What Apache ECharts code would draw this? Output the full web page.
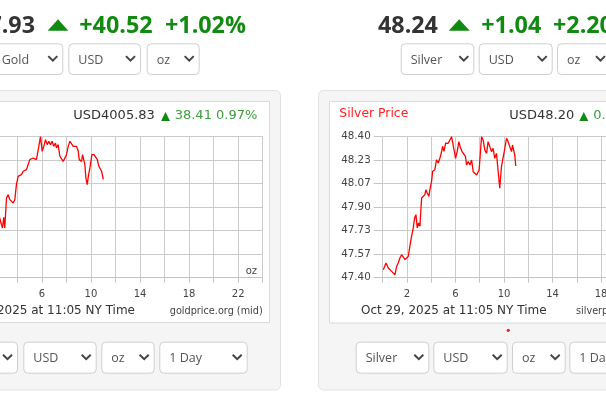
<!DOCTYPE html>
<html><head><meta charset="utf-8">
<script src="https://cdn.jsdelivr.net/npm/echarts@6/dist/echarts.min.js"></script>
<style>html,body{margin:0;padding:0;background:#fff;overflow:hidden}#c{width:606px;height:409px}</style>
</head><body><div id="c"></div>
<script>
// ---- data ----
const goldHours = [0,0.25,0.5,0.75,1,1.25,1.5,1.75,2,2.25,2.45,
 2.57,2.71,2.79,2.90,2.98,3.12,3.25,3.39,3.52,3.66,3.80,3.93,4.07,4.20,4.34,4.48,4.61,4.75,4.88,5.02,5.29,5.56,5.70,5.78,5.89,
 6.03,6.16,6.30,6.44,6.57,6.71,6.84,6.98,7.11,7.20,7.33,7.47,7.60,7.74,7.88,8.01,8.15,8.29,8.42,8.56,8.69,8.83,8.97,9.05,9.16,
 9.24,9.32,9.43,9.51,9.59,9.70,9.81,9.92,10.0,10.08,10.25,10.41,10.52,10.65,10.73,10.87,11.01];
const goldPrices = [3967.4,3970.2,3968.5,3972.0,3975.1,3973.0,3977.2,3980.0,3978.1,3982.3,3980.4,
 3983.9,3980.1,3978.2,3984.3,3978.2,3995.2,3997.1,3994.3,3995.2,3992.4,3994.3,4002.8,4007.5,4006.6,4008.5,4010.4,4009.5,4011.3,4014.1,4017.0,4017.9,4017.0,4017.9,4025.5,4030.0,
 4021.7,4024.5,4028.3,4025.5,4027.4,4025.5,4027.4,4024.5,4026.4,4023.6,4025.5,4018.9,4017.9,4016.0,4017.0,4019.8,4024.5,4027.4,4026.4,4024.5,4023.6,4024.5,4021.7,4017.0,4017.9,
 4016.0,4019.8,4020.8,4014.1,4006.6,4002.8,4008.5,4012.3,4016.0,4019.8,4019.8,4018.9,4017.0,4013.2,4012.3,4010.4,4005.8];
const silverHours = [0.05,0.27,0.46,0.60,0.74,0.87,1.01,1.15,1.28,1.42,1.56,1.70,1.84,1.98,2.11,2.25,2.33,2.44,2.52,2.63,2.74,2.85,2.96,3.07,3.13,3.21,3.34,3.48,3.56,3.67,3.81,3.89,
 4.03,4.12,4.30,4.44,4.58,4.72,4.86,4.94,5.05,5.19,5.27,5.40,5.54,5.68,5.81,6.01,6.14,6.28,6.42,6.55,6.69,6.83,6.91,7.05,7.19,7.33,7.46,7.60,7.74,7.87,7.95,
 8.07,8.15,8.28,8.42,8.56,8.69,8.83,8.97,9.10,9.24,9.38,9.51,9.65,9.79,9.93,10.07,10.21,10.34,10.48,10.62,10.70,10.81,10.89,10.97];
const silverPrices = [47.457,47.504,47.469,47.481,47.445,47.457,47.421,47.481,47.504,47.540,47.563,47.552,47.528,47.516,47.552,47.563,47.670,47.682,47.753,47.823,47.847,47.753,47.788,47.765,47.859,47.965,47.977,47.989,48.024,48.001,47.977,48.024,
 48.084,48.155,48.166,48.237,48.213,48.249,48.296,48.332,48.296,48.355,48.365,48.353,48.377,48.400,48.389,48.247,48.294,48.365,48.318,48.294,48.306,48.258,48.199,48.223,48.199,48.235,48.152,48.164,48.128,48.121,48.164,
 48.306,48.400,48.377,48.306,48.282,48.365,48.353,48.294,48.318,48.247,48.282,48.164,48.034,48.187,48.199,48.318,48.389,48.365,48.329,48.294,48.341,48.341,48.270,48.192];
const xTickLabels = [2,6,10,14,18,22];
const goldYRange = [3950, 4030];
const silverYRange = [47.40, 48.40];
const goldHeader = {price:'4007.93', change:'+40.52', pct:'+1.02%'};
const silverHeader = {price:'48.24', change:'+1.04', pct:'+2.20%'};
const goldChart = {last:'USD4005.83', change:'38.41 0.97%'};
const silverChart = {last:'USD48.20', change:'0.75 1.58%'};
const dateText = 'Oct 29, 2025 at 11:05 NY Time';

// ---- helpers ----
function yTicks(r){const a=[];for(let i=0;i<=6;i++)a.push(r[0]+(r[1]-r[0])*i/6);return a;}
const GRID='#cbcbcb', DARK='#333', GREEN='#118a11', LGREEN='#3a9e3a';
const chartFont='DejaVu Sans', uiFont='Open Sans';
const g=[];
function rect(x,y,w,h,fill,stroke,r,z){g.push({type:'rect',shape:{x,y,width:w,height:h,r:r||0},style:{fill,stroke:stroke||null,lineWidth:1},z:z===undefined?-10:z,silent:true});}
function text(x,y,t,opt){g.push({type:'text',x,y,z:10,silent:true,style:Object.assign({text:t,fill:DARK,font:'12px '+chartFont,align:'left',verticalAlign:'middle'},opt)});}
function tri(x1,x2,y1,y2,color){g.push({type:'polygon',z:10,silent:true,shape:{points:[[x1,y2],[(x1+x2)/2,y1],[x2,y2]]},style:{fill:color}});}
function select(x1,x2,y1,y2,label,tx){
  rect(x1+0.5,y1+0.5,x2-x1,y2-y1,'#fff','#cfcfcf',4,-5);
  if(label) text(tx===undefined?x1+10:tx,(y1+y2)/2+1.5,label,{fill:'#555',font:'12.5px '+uiFont});
  const cx=x2-14,cy=(y1+y2)/2-2.5;
  g.push({type:'polyline',z:10,silent:true,shape:{points:[[cx,cy],[cx+4.5,cy+4.5],[cx+9,cy]]},style:{stroke:'#444',lineWidth:2,fill:null}});
}

// panels
rect(-20,90.5,300.5,299.5,'#f5f5f5','#e2e2e2',5,-20);
rect(318.5,90.5,320,299.5,'#f5f5f5','#e2e2e2',5,-20);
rect(-20,101.5,289.5,221,'#fff','#dadada',0,-15);
rect(329.5,101.5,300,221.5,'#fff','#dadada',0,-15);

// headers
const HB='bold 23.3px '+uiFont;
text(35,26.5,goldHeader.price,{font:HB,fill:DARK,align:'right'});
tri(47.7,68.3,19.3,30.7,GREEN);
text(79.3,26.5,goldHeader.change,{font:HB,fill:GREEN});
text(165,26.5,goldHeader.pct,{font:HB,fill:GREEN});
text(378,26.5,silverHeader.price,{font:HB,fill:DARK});
tri(448.7,469.7,19.3,30.7,GREEN);
text(481.3,26.5,silverHeader.change,{font:HB,fill:GREEN});
text(553,26.5,silverHeader.pct,{font:HB,fill:GREEN});

// top selects
select(-30,62.3,43.3,74,'Gold',1.7);
select(68.3,140,43.3,74,'USD');
select(146.7,198.7,43.3,74,'oz');
select(400.7,473.3,43.3,74,'Silver');
select(478.7,551.7,43.3,74,'USD');
select(557,610,43.3,74,'oz');
// bottom selects
select(-60,17,341.7,372.7,'Gold');
select(23.3,95.7,341.7,372.7,'USD');
select(101.3,153.7,341.7,372.7,'oz');
select(159.3,246.7,341.7,372.7,'1 Day');
select(355.7,428.3,341.7,372.7,'Silver');
select(433.3,506.7,341.7,372.7,'USD');
select(512,564.7,341.7,372.7,'oz');
select(569.3,660,341.7,372.7,'1 Day');

// chart header texts
const CF='13px '+chartFont;
text(73.3,115.7,goldChart.last,{font:CF,fill:DARK});
tri(161,170,112,121,GREEN);
text(174.7,115.7,goldChart.change,{font:CF,fill:LGREEN});
text(339.3,113.3,'Silver Price',{font:'12.4px '+chartFont,fill:'#ff2020'});
text(509.3,115.7,silverChart.last,{font:CF,fill:DARK});
tri(579.3,588.3,112,121,GREEN);
text(593.3,115.7,silverChart.change,{font:CF,fill:LGREEN});
// footers
text(135,311.3,dateText,{font:'12px '+chartFont,fill:DARK,align:'right'});
text(361,311.3,dateText,{font:'12px '+chartFont,fill:DARK});
text(262.7,311.7,'goldprice.org (mid)',{font:'9.7px '+chartFont,fill:'#444',align:'right'});
text(576,311.7,'silverprice.org (mid)',{font:'9.7px '+chartFont,fill:'#444'});
text(257,271.7,'oz',{font:'10px '+chartFont,fill:'#444',align:'right'});
g.push({type:'circle',z:10,silent:true,shape:{cx:508.3,cy:330.3,r:1.6},style:{fill:'#ee2222'}});

function xAxis(i){return {gridIndex:i,type:'value',min:0,max:24,interval:2,
  axisLine:{show:true,lineStyle:{color:'#c4c4c4',width:1}},
  axisTick:{show:true,length:5,lineStyle:{color:'#c4c4c4'}},
  axisLabel:{customValues:xTickLabels,formatter:v=>String(v),fontSize:10,color:'#444',fontFamily:chartFont,margin:12},
  splitLine:{show:true,lineStyle:{color:GRID,width:1}}};}
function yAxis(i,r){const t=yTicks(r);return {gridIndex:i,type:'value',min:r[0],max:r[1],
  axisLine:{show:false},
  axisTick:{show:true,length:9,customValues:t,lineStyle:{color:'#c4c4c4'}},
  axisLabel:{customValues:t,formatter:v=>v.toFixed(2),fontSize:10.3,color:'#444',fontFamily:chartFont,margin:12},
  splitLine:{show:true,lineStyle:{color:GRID,width:1}}};}

const chart = echarts.init(document.getElementById('c'));
chart.setOption({
  animation:false,
  backgroundColor:'#fff',
  grid:[
    {left:-31.8,top:136.7,width:294.5,height:141,outerBoundsMode:'none',containLabel:false},
    {left:382.7,top:136.7,width:291.1,height:141,outerBoundsMode:'none',containLabel:false}
  ],
  xAxis:[xAxis(0),xAxis(1)],
  yAxis:[yAxis(0,goldYRange),yAxis(1,silverYRange)],
  series:[
    {type:'line',xAxisIndex:0,yAxisIndex:0,data:goldHours.map((h,i)=>[h,goldPrices[i]]),showSymbol:false,lineStyle:{color:'#ff0000',width:1.3},clip:true},
    {type:'line',xAxisIndex:1,yAxisIndex:1,data:silverHours.map((h,i)=>[h,silverPrices[i]]),showSymbol:false,lineStyle:{color:'#ff0000',width:1.3},clip:true}
  ],
  graphic:{elements:g}
});
</script></body></html>
